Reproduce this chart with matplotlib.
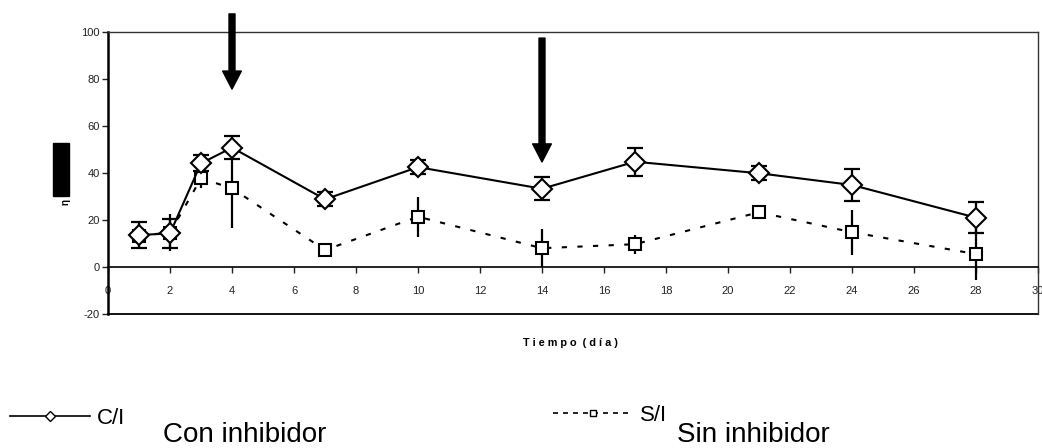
import matplotlib
matplotlib.use("Agg")
import matplotlib.pyplot as plt
from matplotlib.lines import Line2D
from matplotlib.patches import Rectangle

plt.rcParams['font.family'] = ['Liberation Sans', 'DejaVu Sans']
plt.rcParams['axes.unicode_minus'] = False

# días de muestreo
dias = [1, 2, 3, 4, 7, 10, 14, 17, 21, 24, 28]

# con inhibidor (C/I)
ci = [13.6, 14.3, 44.1, 50.8, 28.8, 42.5, 33.3, 44.8, 39.9, 34.9, 21.0]
ci_err = [5.6, 6.2, 3.4, 5.0, 3.0, 3.0, 5.0, 6.0, 3.0, 6.7, 6.7]

# sin inhibidor (S/I)
si = [13.4, 14.6, 37.7, 33.5, 7.2, 21.4, 8.0, 9.7, 23.3, 14.8, 5.5]
si_err = [5.0, 8.0, 4.0, 17.0, 3.0, 8.6, 8.0, 4.0, 3.0, 9.6, 11.0]

# días de adición del inhibidor (flechas)
flechas_x = [4, 14]
flechas_y0 = [107.7, 97.4]
flechas_y1 = [75.7, 44.7]

W, H = 1042, 448
fig = plt.figure(figsize=(W / 100, H / 100), dpi=100)
ax = fig.add_axes([108 / W, 1 - 314 / H, 930 / W, 282 / H])

ax.errorbar(dias, si, yerr=si_err, fmt='none', ecolor='black', elinewidth=1.6,
            capsize=0, zorder=2)
ax.plot(dias, si, color='black', lw=1.5, linestyle=(0, (2.5, 5)), marker='s',
        markersize=8, markerfacecolor='white', markeredgecolor='black',
        markeredgewidth=1.5, zorder=3)

ax.errorbar(dias, ci, yerr=ci_err, fmt='none', ecolor='black', elinewidth=1.6,
            capsize=5.5, capthick=1.6, zorder=4)
ax.plot(dias, ci, color='black', lw=1.5, marker='D', markersize=10.5,
        markerfacecolor='white', markeredgecolor='black', markeredgewidth=1.5,
        zorder=5)

for x, y0, y1 in zip(flechas_x, flechas_y0, flechas_y1):
    ax.annotate('', xy=(x, y1), xytext=(x, y0), annotation_clip=False,
                arrowprops=dict(facecolor='black', edgecolor='black', width=4.3,
                                headwidth=13.5, headlength=13, shrink=0),
                zorder=6)

ax.set_xlim(0, 30)
ax.set_ylim(-20, 100)
ax.set_xticks(range(0, 31, 2))
ax.set_yticks(range(-20, 101, 20))

ax.spines['bottom'].set_position(('data', 0))
ax.spines['bottom'].set_linewidth(1.2)
ax.spines['left'].set_linewidth(1.8)
for s in ['top', 'right']:
    ax.spines[s].set_linewidth(1.0)
    ax.spines[s].set_color('#333333')
# borde inferior del área de trazado
ax.plot([0, 1], [0, 0], transform=ax.transAxes, color='black', lw=1.3,
        clip_on=False)

ax.tick_params(axis='x', direction='out', length=4, width=1, labelsize=8,
               pad=10, colors='#222222')
ax.tick_params(axis='y', direction='out', length=4, width=1, labelsize=8,
               pad=2, colors='#222222')

fig.text(570 / W, 1 - 343 / H, 'T i e m p o  ( d í a )', ha='center', va='center',
         fontsize=7.8, fontweight='bold')

# etiqueta del eje y
fig.add_artist(Rectangle((53 / W, 1 - 196 / H), 16 / W, 53 / H,
                         transform=fig.transFigure, color='black'))
fig.text(66 / W, 1 - 202 / H, 'η', rotation=90, ha='center', va='center',
         fontsize=7, fontweight='bold')

# leyenda
h1 = Line2D([], [], color='black', lw=1.2, marker='D', markersize=5,
            markerfacecolor='white', markeredgecolor='black', markeredgewidth=1)
h2 = Line2D([], [], color='black', lw=1.2, linestyle=(0, (3, 3)), marker='s',
            markersize=5, markerfacecolor='white', markeredgecolor='black',
            markeredgewidth=1)
narrow = {'family': ['Liberation Sans Narrow', 'Liberation Sans'], 'size': 16}
fig.legend([h1], ['C/I'], loc='center left', bbox_to_anchor=(10 / W, 1 - 418 / H),
           frameon=False, prop=narrow, borderpad=0, borderaxespad=0,
           handlelength=3.6, handletextpad=0.3)
fig.legend([h2], ['S/I'], loc='center left', bbox_to_anchor=(553 / W, 1 - 415 / H),
           frameon=False, prop=narrow, borderpad=0, borderaxespad=0,
           handlelength=3.6, handletextpad=0.3)
fig.text(163 / W, 1 - 442 / H, 'Con inhibidor', fontsize=20, va='baseline')
fig.text(677 / W, 1 - 442 / H, 'Sin inhibidor', fontsize=20, va='baseline')

fig.savefig('out.png', dpi=100)
